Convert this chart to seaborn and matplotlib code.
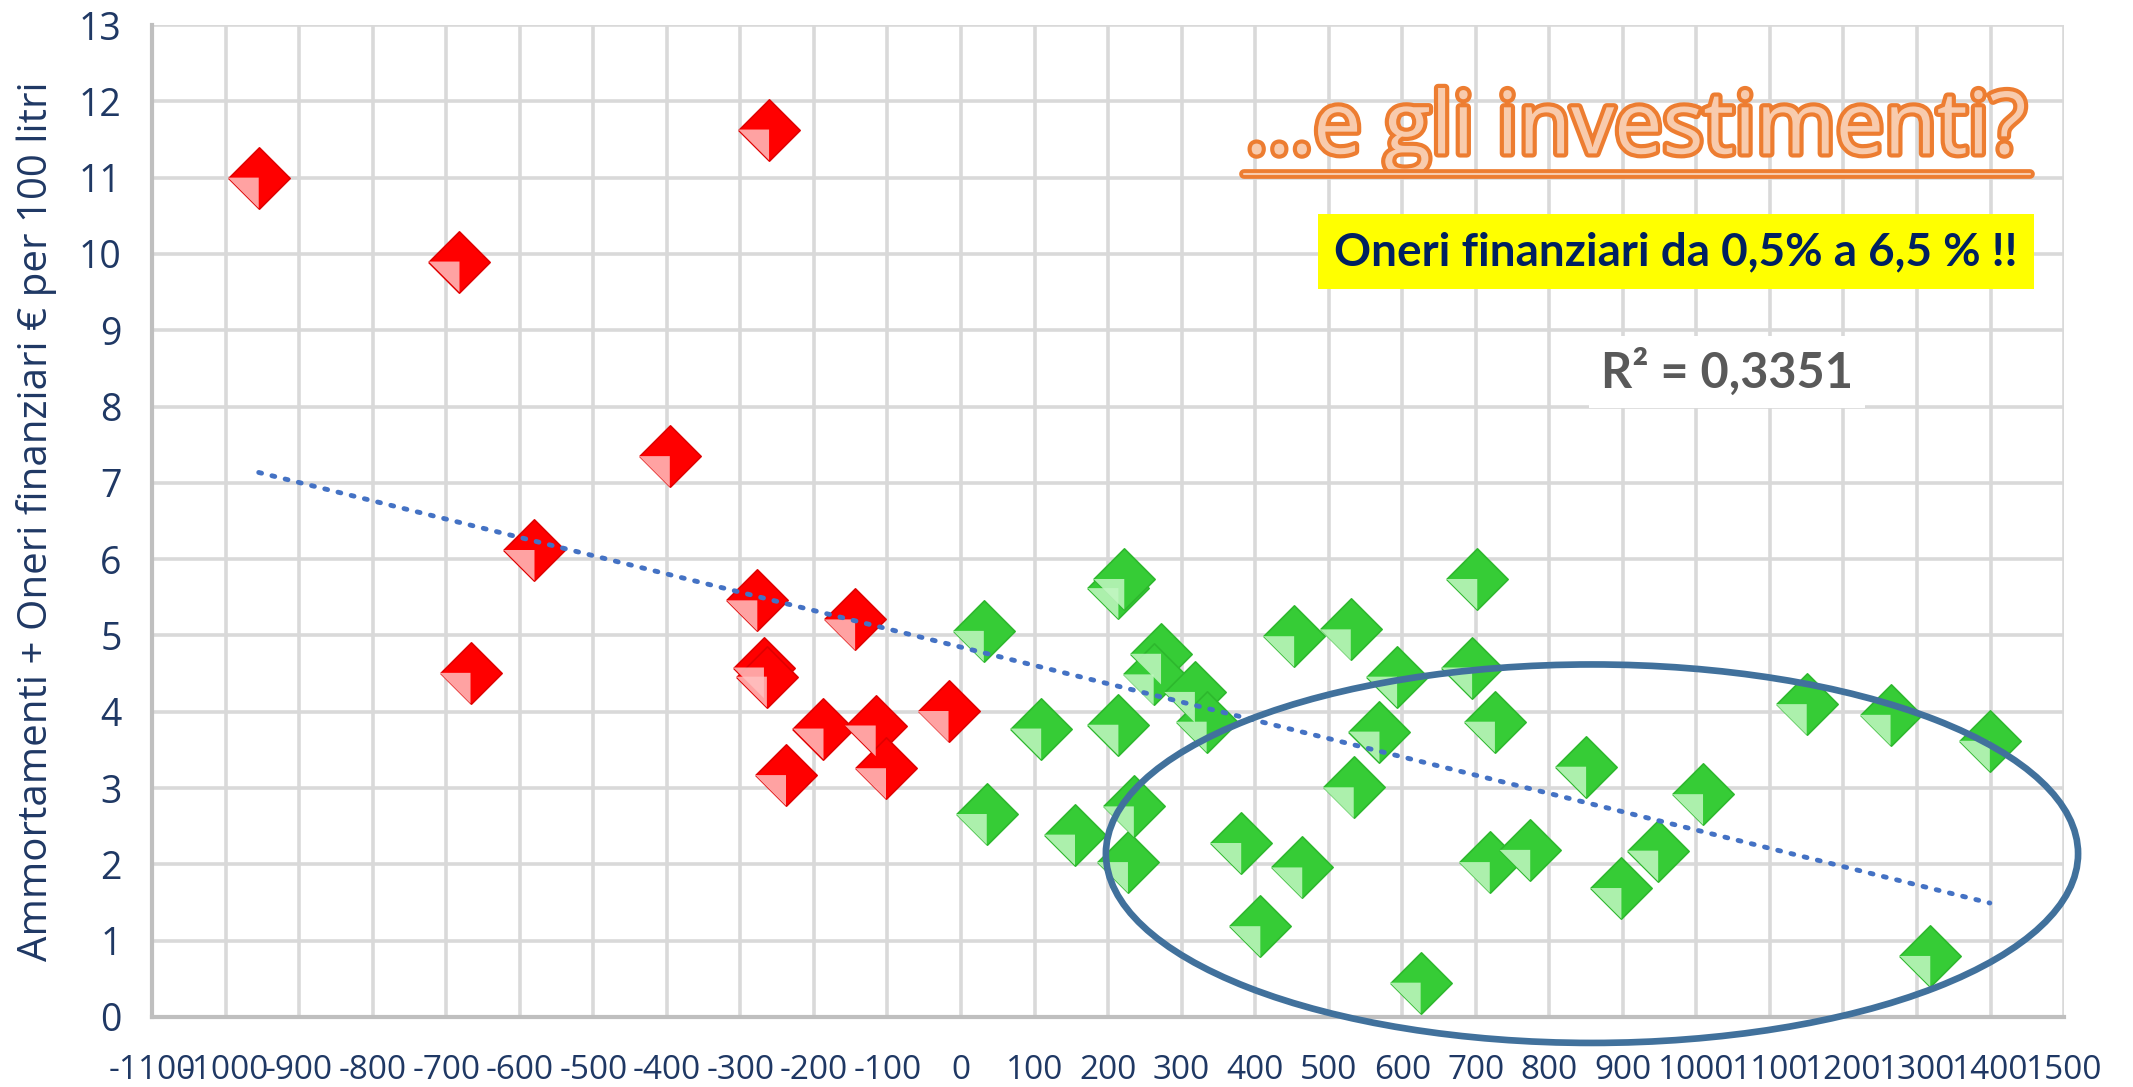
import matplotlib
matplotlib.use("Agg")
import matplotlib.pyplot as plt
import matplotlib.patheffects as pe
from matplotlib import font_manager
from matplotlib.patches import Ellipse, Rectangle
import pandas as pd
import seaborn as sns

# Values: liters difference (x) vs cost per 100 liters (y)
red_x = [-955, -261, -682, -396, -580, -667, -277, -144, -268, -264,
         -187, -116, -102, -238, -17]
red_y = [11.0, 11.63, 9.9, 7.35, 6.12, 4.51, 5.46, 5.21, 4.58, 4.46,
         3.78, 3.82, 3.26, 3.17, 4.01]

green_x = [31, 35, 109, 155, 214, 222, 214, 235, 227, 272, 262, 318, 334,
           381, 407, 453, 464, 530, 534, 569, 593, 625, 695, 702, 726, 719,
           774, 850, 898, 948, 1009, 1150, 1264, 1399, 1318]
green_y = [5.06, 2.66, 3.78, 2.39, 5.62, 5.74, 3.83, 2.76, 2.03, 4.76, 4.49,
           4.26, 3.87, 2.28, 1.19, 4.99, 1.96, 5.08, 3.01, 3.74, 4.46, 0.45,
           4.58, 5.74, 3.87, 2.03, 2.19, 3.28, 1.69, 2.18, 2.92, 4.10, 3.96,
           3.62, 0.80]

x_ticks = list(range(-1100, 1501, 100))
y_ticks = list(range(0, 14))

title_text = "...e gli investimenti?"
note_text = "Oneri finanziari da 0,5% a 6,5 % !!"
r2_text = "R² = 0,3351"
y_label = "Ammortamenti + Oneri finanziari € per 100 litri"

df = pd.DataFrame({
    "x": red_x + green_x,
    "y": red_y + green_y,
    "grp": ["neg"] * len(red_x) + ["pos"] * len(green_x),
})

navy = "#1F3864"

# pick a narrow font for the crowded x labels if one is installed
installed = {f.name for f in font_manager.fontManager.ttflist}
narrow = None
for cand in ["Liberation Sans Narrow", "DejaVu Sans Condensed"]:
    if cand in installed:
        narrow = cand
        break

sns.set_style("white")
fig = plt.figure(figsize=(21.33, 10.87), dpi=100)
ax = fig.add_axes([0.0713, 0.0644, 0.8964, 0.9126])

# diamond marker and its lighter lower-left facet
diamond = [(-1, 0), (0, 1), (1, 0), (0, -1), (-1, 0)]
facet = [(-1, 0), (0, 0), (0, -1), (-1, 0)]
msize = 1950

for grp, face, light, edge in [("neg", "#FF0000", "#FFC0C0", "#E00000"),
                               ("pos", "#36CC36", "#C2F7C2", "#2DB82D")]:
    sub = df[df["grp"] == grp]
    sns.scatterplot(data=sub, x="x", y="y", ax=ax, marker=diamond, s=msize,
                    color=face, edgecolor=edge, linewidth=1.2, zorder=3,
                    legend=False)
    sns.scatterplot(data=sub, x="x", y="y", ax=ax, marker=facet, s=msize,
                    color=light, edgecolor="none", linewidth=0, zorder=3.1,
                    alpha=0.85, legend=False)

# linear trend line over all points
sns.regplot(data=df, x="x", y="y", ax=ax, scatter=False, ci=None,
            line_kws=dict(color="#4472C4", lw=3.5, linestyle=(0, (0.6, 2.2)),
                          dash_capstyle="round", zorder=4))

ax.set_xlim(-1100, 1500)
ax.set_ylim(0, 13)
ax.set_xticks(x_ticks)
ax.set_yticks(y_ticks)
if narrow:
    ax.set_xticklabels([str(v) for v in x_ticks], fontsize=27, color=navy,
                       family=[narrow, "DejaVu Sans"])
else:
    ax.set_xticklabels([str(v) for v in x_ticks], fontsize=24, color=navy,
                       family=["Open Sans", "DejaVu Sans"])
ax.set_yticklabels([str(v) for v in y_ticks], fontsize=27, color=navy,
                   family=["Open Sans", "DejaVu Sans"])
ax.tick_params(axis="y", length=0, pad=22)
ax.tick_params(axis="x", length=0, pad=27)
ax.set_xlabel("")
ax.set_ylabel(y_label, fontsize=29, color=navy, family=["Open Sans", "DejaVu Sans"],
              labelpad=16)

ax.grid(True, color="#D9D9D9", lw=2.6)
ax.set_axisbelow(True)
for side in ["top", "right"]:
    ax.spines[side].set_visible(False)
for side in ["left", "bottom"]:
    ax.spines[side].set_color("#BFBFBF")
    ax.spines[side].set_linewidth(3)

# highlight ellipse
ell = Ellipse((858, 2.14), 1322, 4.96, fill=False, edgecolor="#41719C",
              lw=4.8, zorder=6, clip_on=False)
ax.add_patch(ell)

# headline with outline and underline
ax.text(0.776, 0.893, title_text, transform=ax.transAxes, ha="center",
        va="center", fontsize=62, color="#F8CBAD",
        family=["Open Sans", "DejaVu Sans"],
        path_effects=[pe.withStroke(linewidth=6, foreground="#ED7D31")],
        zorder=7)
ax.plot([0.571, 0.982], [0.850, 0.850], transform=ax.transAxes, color="#ED7D31",
        lw=7, solid_capstyle="round", zorder=7, clip_on=False)
ax.plot([0.571, 0.982], [0.850, 0.850], transform=ax.transAxes, color="#F8CBAD",
        lw=1.5, zorder=7.1, clip_on=False)

# yellow note
ax.add_patch(Rectangle((0.610, 0.734), 0.374, 0.075, transform=ax.transAxes,
                       facecolor="#FFFF00", edgecolor="none", zorder=6.5))
ax.text(0.797, 0.771, note_text, transform=ax.transAxes, ha="center",
        va="center", fontsize=33, fontweight="bold", color="#002060",
        family=["Lato", "DejaVu Sans"], zorder=7)

# R squared label
ax.text(1042, 8.45, r2_text, ha="center", va="center", fontsize=35,
        fontweight="bold", color="#595959", family=["Lato", "DejaVu Sans"],
        bbox=dict(boxstyle="square,pad=0.25", fc="white", ec="none"), zorder=5)

fig.savefig("out.png", dpi=100)
